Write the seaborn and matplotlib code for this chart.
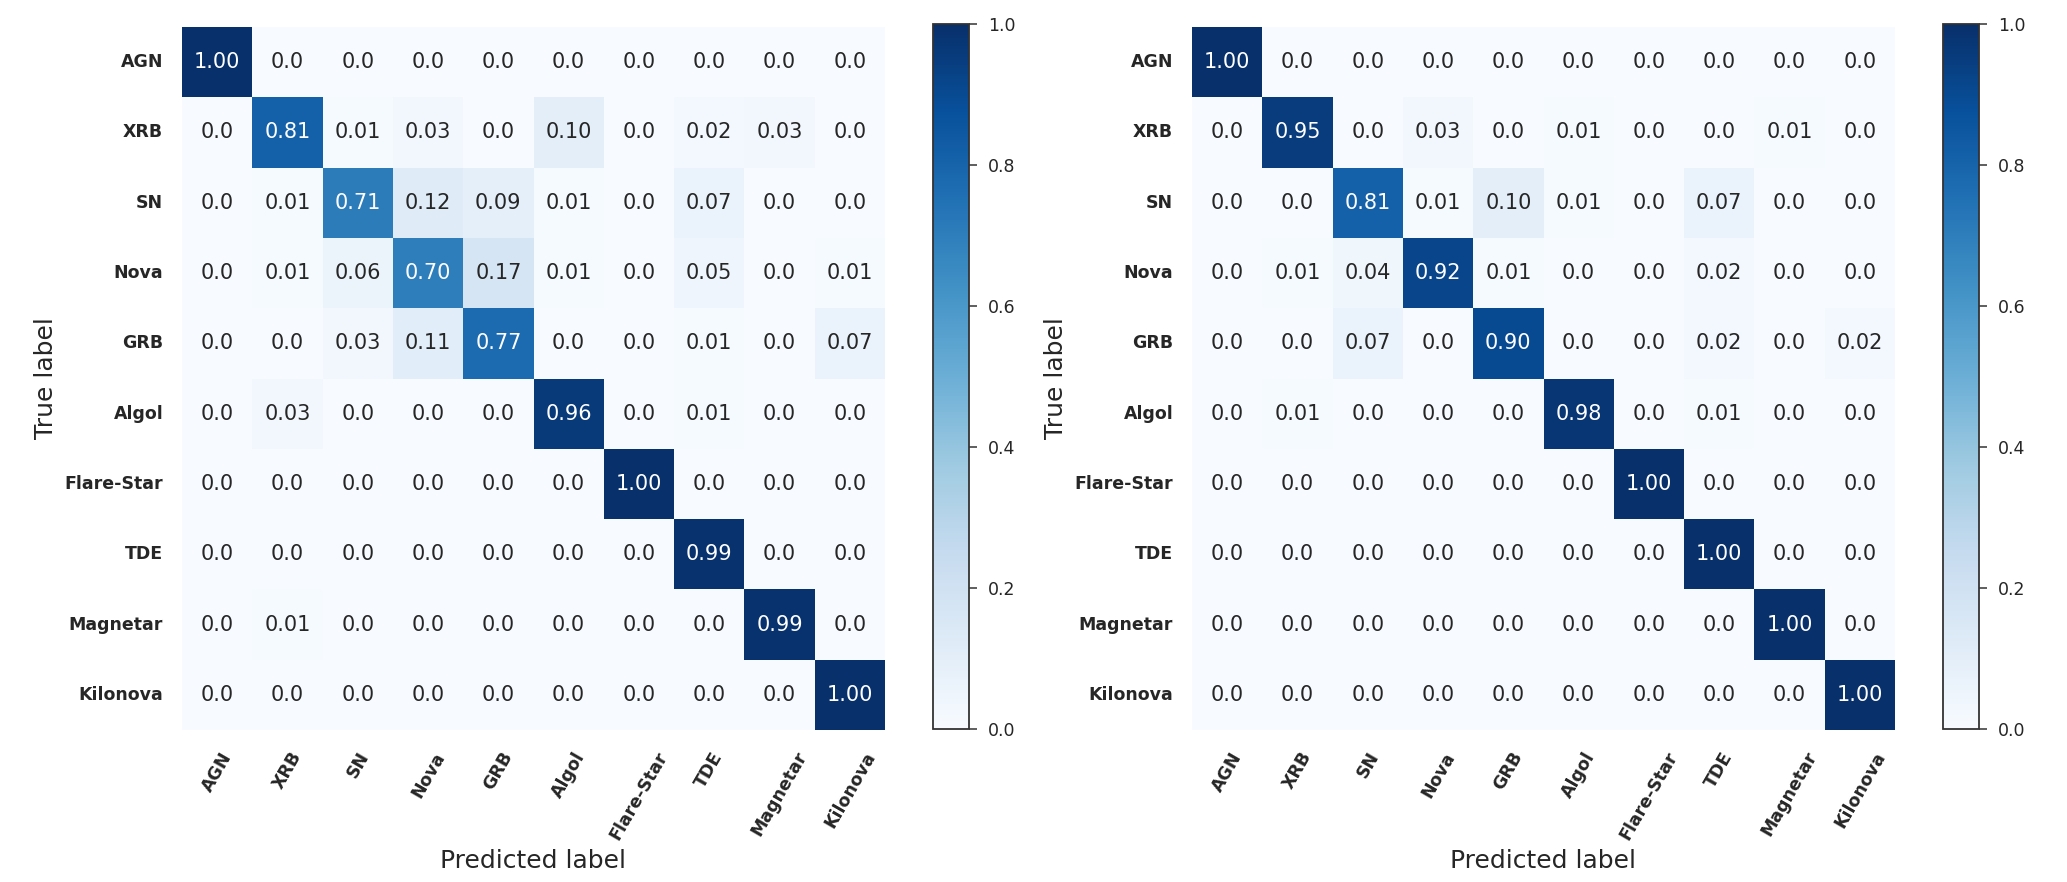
import numpy as np
import pandas as pd
import matplotlib
matplotlib.use("Agg")
import matplotlib.pyplot as plt
import seaborn as sns

sns.set_theme(style="white")
plt.rcParams["font.family"] = ["DejaVu Sans"]

classes = ["AGN", "XRB", "SN", "Nova", "GRB", "Algol",
           "Flare-Star", "TDE", "Magnetar", "Kilonova"]

# Row-normalised confusion matrix, first classifier (rows = true, cols = predicted)
cm_left = [
    [1.00, 0.00, 0.00, 0.00, 0.00, 0.00, 0.00, 0.00, 0.00, 0.00],
    [0.00, 0.81, 0.01, 0.03, 0.00, 0.10, 0.00, 0.02, 0.03, 0.00],
    [0.00, 0.01, 0.71, 0.12, 0.09, 0.01, 0.00, 0.07, 0.00, 0.00],
    [0.00, 0.01, 0.06, 0.70, 0.17, 0.01, 0.00, 0.05, 0.00, 0.01],
    [0.00, 0.00, 0.03, 0.11, 0.77, 0.00, 0.00, 0.01, 0.00, 0.07],
    [0.00, 0.03, 0.00, 0.00, 0.00, 0.96, 0.00, 0.01, 0.00, 0.00],
    [0.00, 0.00, 0.00, 0.00, 0.00, 0.00, 1.00, 0.00, 0.00, 0.00],
    [0.00, 0.00, 0.00, 0.00, 0.00, 0.00, 0.00, 0.99, 0.00, 0.00],
    [0.00, 0.01, 0.00, 0.00, 0.00, 0.00, 0.00, 0.00, 0.99, 0.00],
    [0.00, 0.00, 0.00, 0.00, 0.00, 0.00, 0.00, 0.00, 0.00, 1.00],
]

# Row-normalised confusion matrix, second classifier
cm_right = [
    [1.00, 0.00, 0.00, 0.00, 0.00, 0.00, 0.00, 0.00, 0.00, 0.00],
    [0.00, 0.95, 0.00, 0.03, 0.00, 0.01, 0.00, 0.00, 0.01, 0.00],
    [0.00, 0.00, 0.81, 0.01, 0.10, 0.01, 0.00, 0.07, 0.00, 0.00],
    [0.00, 0.01, 0.04, 0.92, 0.01, 0.00, 0.00, 0.02, 0.00, 0.00],
    [0.00, 0.00, 0.07, 0.00, 0.90, 0.00, 0.00, 0.02, 0.00, 0.02],
    [0.00, 0.01, 0.00, 0.00, 0.00, 0.98, 0.00, 0.01, 0.00, 0.00],
    [0.00, 0.00, 0.00, 0.00, 0.00, 0.00, 1.00, 0.00, 0.00, 0.00],
    [0.00, 0.00, 0.00, 0.00, 0.00, 0.00, 0.00, 1.00, 0.00, 0.00],
    [0.00, 0.00, 0.00, 0.00, 0.00, 0.00, 0.00, 0.00, 1.00, 0.00],
    [0.00, 0.00, 0.00, 0.00, 0.00, 0.00, 0.00, 0.00, 0.00, 1.00],
]

cbar_ticks = [0.0, 0.2, 0.4, 0.6, 0.8, 1.0]

W, H = 2067, 882
fig = plt.figure(figsize=(W / 100, H / 100), dpi=100)


def px_axes(x0, y0, x1, y1):
    return fig.add_axes([x0 / W, 1 - y1 / H, (x1 - x0) / W, (y1 - y0) / H])


def cell_text(v):
    return "0.0" if v == 0 else f"{v:.2f}"


def draw_cm(matrix, ax, cax):
    df = pd.DataFrame(matrix, index=classes, columns=classes)
    labels = df.map(cell_text).values
    sns.heatmap(df, ax=ax, cbar_ax=cax, cmap="Blues", vmin=0, vmax=1,
                annot=labels, fmt="", annot_kws={"fontsize": 15},
                linewidths=0, square=False)
    ax.set_xticklabels(classes, rotation=60, ha="center",
                       fontsize=12.5, fontweight="bold", color=".15")
    ax.set_yticklabels(classes, rotation=0,
                       fontsize=12.5, fontweight="bold", color=".15")
    ax.tick_params(axis="both", length=0, pad=13.5)
    ax.set_xlabel("Predicted label", fontsize=18, color=".15", labelpad=4)
    ax.set_ylabel("True label", fontsize=18, color=".15", labelpad=5)

    cb = ax.collections[0].colorbar
    cb.set_ticks(cbar_ticks)
    cb.set_ticklabels([f"{t:.1f}" for t in cbar_ticks])
    cb.outline.set_linewidth(1.3)
    cb.outline.set_edgecolor(".2")
    cax.tick_params(axis="y", right=True, length=6, width=1.1,
                    color=".2", pad=7.5, labelsize=12.5, labelcolor=".15")


ax1 = px_axes(182, 27, 885, 730)
cax1 = px_axes(933, 24, 969, 729)
ax2 = px_axes(1192, 27, 1895, 730)
cax2 = px_axes(1943, 24, 1979, 729)

draw_cm(cm_left, ax1, cax1)
draw_cm(cm_right, ax2, cax2)

fig.savefig("out.png", dpi=100, facecolor="white")
